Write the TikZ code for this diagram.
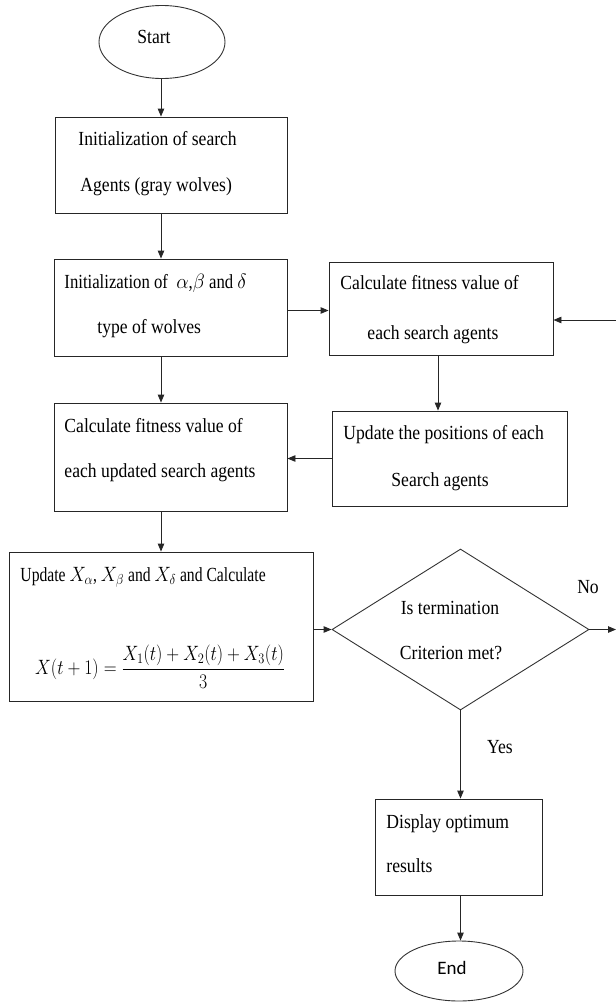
\documentclass[tikz,border=0pt]{standalone}
\usepackage{fontspec}
\setmainfont{Liberation Serif}[FakeStretch=0.88]
\newfontfamily\endfont{Carlito}
\usetikzlibrary{shapes.geometric,arrows.meta}
\begin{document}
\begin{tikzpicture}[x=1pt,y=-1pt,
  font=\fontsize{20}{24}\selectfont,
  line width=0.9pt,
  box/.style={draw=black!85, rectangle, inner sep=0pt},
  arr/.style={draw=black!85, -{Triangle[length=8pt,width=6.5pt]}},
  txt/.style={anchor=west, inner sep=0pt, text height=14pt, text depth=4pt},
  lbl/.style={inner sep=0pt, text height=14pt, text depth=4pt}]
\useasboundingbox (0,0) rectangle (616,1002);
% shapes
\node[draw=black!80, ellipse, minimum width=126pt, minimum height=73pt, inner sep=0pt] (start) at (162,42) {};
\node[box, minimum width=232pt, minimum height=96pt] (b1) at (171,165) {};
\node[box, minimum width=233pt, minimum height=97pt] (b2) at (170.5,307.5) {};
\node[box, minimum width=224pt, minimum height=93pt] (b3) at (441,309) {};
\node[box, minimum width=235pt, minimum height=95pt] (b4) at (449.5,458.5) {};
\node[box, minimum width=233pt, minimum height=108pt] (b5) at (170.5,457) {};
\node[box, minimum width=304pt, minimum height=149pt] (b6) at (161,626.5) {};
\node[draw=black!80, diamond, minimum width=257pt, minimum height=161pt, inner sep=0pt] (dec) at (460.5,629.5) {};
\node[box, minimum width=167pt, minimum height=96pt] (disp) at (458.5,847) {};
\node[draw=black!80, ellipse, minimum width=128pt, minimum height=60pt, inner sep=0pt] (stop) at (459,971) {};
% texts
\node[lbl] (tstart) at (154,38) {Start};
\node[txt] (t1a) at (78,140) {Initialization of search};
\node[txt] (t1b) at (80,186) {Agents (gray wolves)};
\node[txt] (t2a) at (64,283) {\scalebox{0.95}[1]{Initialization of \ $\alpha$,$\beta$ and $\delta$}};
\node[txt] (t2b) at (97,328) {type of wolves};
\node[txt] (t3a) at (340,284) {Calculate fitness value of};
\node[txt] (t3b) at (367,334) {each search agents};
\node[txt] (t4a) at (343,434) {Update the positions of each};
\node[txt] (t4b) at (391,481) {Search agents};
\node[txt] (t5a) at (64,427) {Calculate fitness value of};
\node[txt] (t5b) at (64,472) {each updated search agents};
\node[txt] (t6a) at (20,576) {\scalebox{0.89}[1]{Update $X_\alpha$, $X_\beta$ and $X_\delta$ and Calculate}};
\node[inner sep=0pt, font=\fontsize{19.5}{22}\selectfont] (formula) at (160,667)
  {\scalebox{0.86}[1]{$\displaystyle X(t+1)=\frac{X_1(t)+X_2(t)+X_3(t)}{3}$}};
\node[lbl] (tda) at (450,609) {Is termination};
\node[lbl] (tdb) at (451,654) {Criterion met?};
\node[lbl] (tno) at (588,588) {No};
\node[lbl] (tyes) at (500,748) {Yes};
\node[txt] (tda2) at (386,823) {Display optimum};
\node[txt] (tdb2) at (386,867) {results};
\node[lbl, font=\endfont\fontsize{19}{22}\selectfont] (tend) at (452,969) {End};
% free ends at the picture border
\coordinate (rin) at (616,320);
\coordinate (rout) at (616,629.5);
% connectors
\draw[arr] (start.south -| 161,0) -- (b1.north -| 161,0);
\draw[arr] (b1.south -| 161,0) -- (b2.north -| 161,0);
\draw[arr] ([yshift=-3pt]b2.east) -- ([yshift=-3pt]b2.east -| b3.west);
\draw[arr] (rin) -- (rin -| b3.east);
\draw[arr] (b3.south -| 438,0) -- (b4.north -| 438,0);
\draw[arr] (b4.west) -- (b4.west -| b5.east);
\draw[arr] (b2.south -| 161,0) -- (b5.north -| 161,0);
\draw[arr] (b5.south -| 161,0) -- (b6.north -| 161,0);
\draw[arr] (b6.east |- dec.west) -- (dec.west);
\draw[arr] (dec.east) -- (rout);
\draw[arr] (dec.south) -- (dec.south |- disp.north);
\draw[arr] (disp.south -| dec.south) -- (stop.north -| dec.south);
\end{tikzpicture}
\end{document}
